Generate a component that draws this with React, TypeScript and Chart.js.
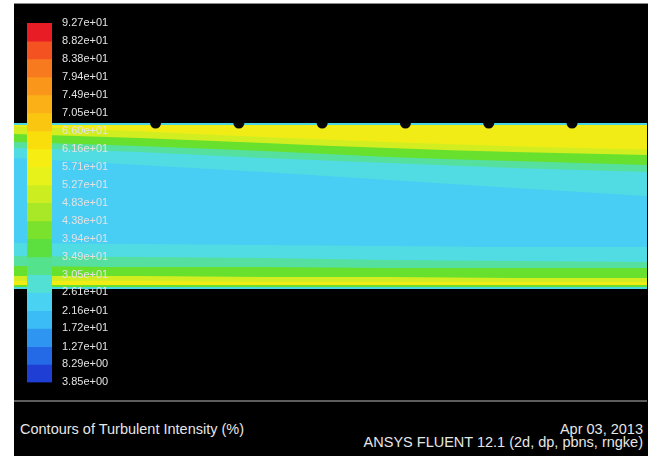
import React, { useEffect, useRef } from 'react';
import { Chart, registerables } from 'chart.js';

Chart.register(...registerables);

// ---------- Contour field data (channel: x 0..76 mm, y 0..10 mm from lower wall) ----------
const X_STATIONS = [0, 15, 30, 45, 60, 76];

// iso-boundaries between colour bands, listed from top wall downward
const B_TOP_WALL = [10, 10, 10, 10, 10, 10];
const B_TOP_FILM = [9.88, 9.88, 9.88, 9.88, 9.88, 9.88];
const B_TOP_YELLOW = [9.8, 9.5, 9.15, 8.85, 8.6, 8.4];
const B_TOP_YELLOWGREEN = [9.34, 9.1, 8.8, 8.49, 8.25, 8.07];
const B_TOP_GREEN = [8.86, 8.61, 8.31, 7.95, 7.71, 7.47];
const B_TOP_CYANGREEN = [8.49, 8.25, 7.89, 7.59, 7.29, 7.05];
const B_CORE_UPPER = [7.89, 7.47, 7.05, 6.57, 6.08, 5.6];
const B_CORE_LOWER = [2.77, 2.71, 2.65, 2.59, 2.53, 2.53];
const B_BOT_CYAN = [1.99, 1.93, 1.87, 1.75, 1.69, 1.63];
const B_BOT_CYANGREEN = [1.39, 1.33, 1.33, 1.27, 1.27, 1.27];
const B_BOT_GREEN = [0.78, 0.78, 0.72, 0.72, 0.66, 0.66];
const B_BOT_YELLOWGREEN = [0.48, 0.48, 0.42, 0.42, 0.42, 0.42];
const B_BOT_YELLOW = [0.24, 0.24, 0.24, 0.24, 0.24, 0.24];
const B_BOT_FILM = [0.12, 0.12, 0.12, 0.12, 0.12, 0.12];

const BOUNDARIES = [
  B_TOP_WALL, B_TOP_FILM, B_TOP_YELLOW, B_TOP_YELLOWGREEN, B_TOP_GREEN, B_TOP_CYANGREEN,
  B_CORE_UPPER, B_CORE_LOWER, B_BOT_CYAN, B_BOT_CYANGREEN, B_BOT_GREEN, B_BOT_YELLOWGREEN,
  B_BOT_YELLOW, B_BOT_FILM,
];

// colour of the band lying just below each boundary
const C_WALL = 'rgb(76, 214, 226)';
const C_YELLOW = 'rgb(242, 236, 22)';
const C_YELLOWGREEN = 'rgb(210, 238, 32)';
const C_GREEN = 'rgb(104, 224, 46)';
const C_CYANGREEN = 'rgb(86, 224, 160)';
const C_LIGHTCYAN = 'rgb(80, 220, 226)';
const C_CORE = 'rgb(72, 205, 245)';
const BAND_BELOW_COLORS = [
  C_WALL, C_YELLOW, C_YELLOWGREEN, C_GREEN, C_CYANGREEN, C_LIGHTCYAN,
  C_CORE, C_LIGHTCYAN, C_CYANGREEN, C_GREEN, C_YELLOWGREEN, C_YELLOW,
  C_GREEN, C_WALL,
];

// probe / hole positions on the upper wall
const PROBE_X = [17, 27, 37, 47, 57, 67];
const PROBE_Y = [10, 10, 10, 10, 10, 10];

// ---------- Colour scale ----------
const LEVELS = [
  92.7, 88.2, 83.8, 79.4, 74.9, 70.5, 66.0, 61.6, 57.1, 52.7, 48.3,
  43.8, 39.4, 34.9, 30.5, 26.1, 21.6, 17.2, 12.7, 8.29, 3.85,
];
const LEVEL_COLORS = [
  'rgb(232, 28, 36)', 'rgb(244, 82, 32)', 'rgb(248, 122, 30)', 'rgb(250, 150, 26)',
  'rgb(250, 176, 22)', 'rgb(250, 198, 16)', 'rgb(250, 222, 12)', 'rgb(246, 238, 18)',
  'rgb(230, 242, 26)', 'rgb(204, 238, 32)', 'rgb(168, 232, 38)', 'rgb(122, 226, 44)',
  'rgb(92, 224, 64)', 'rgb(84, 226, 140)', 'rgb(82, 224, 212)', 'rgb(74, 210, 242)',
  'rgb(60, 188, 246)', 'rgb(46, 150, 240)', 'rgb(36, 106, 230)', 'rgb(30, 62, 212)',
];

const TITLE = 'Contours of Turbulent Intensity (%)';
const DATE = 'Apr 03, 2013';
const SOLVER = 'ANSYS FLUENT 12.1 (2d, dp, pbns, rngke)';

const FONT = '"Liberation Sans", Arial, Helvetica, sans-serif';

function fmtExp(v: number): string {
  const [m, e] = v.toExponential(2).split('e');
  const sign = e[0];
  const digits = e.slice(1).padStart(2, '0');
  return `${m}e${sign}${digits}`;
}

function ContourChart() {
  const ref = useRef<HTMLCanvasElement>(null);
  useEffect(() => {
    const n = BOUNDARIES.length;
    const bandSets = BOUNDARIES.map((b, i) => ({
      data: X_STATIONS.map((x, k) => ({ x, y: b[k] })),
      backgroundColor: BAND_BELOW_COLORS[i],
      borderColor: 'rgba(0,0,0,0)',
      borderWidth: 0,
      pointRadius: 0,
      fill: 'start',
      cubicInterpolationMode: 'monotone',
      order: n - i,
    }));
    const probes = {
      data: PROBE_X.map((x, k) => ({ x, y: PROBE_Y[k] })),
      showLine: false,
      pointRadius: 5.5,
      pointBackgroundColor: '#050505',
      pointBorderColor: '#050505',
      pointBorderWidth: 0,
      fill: false,
      order: 0,
    };
    const chart = new Chart(ref.current as HTMLCanvasElement, {
      type: 'line',
      data: { datasets: [probes, ...bandSets] as any },
      options: {
        animation: false,
        responsive: false,
        events: [],
        layout: { padding: 0, autoPadding: false } as any,
        plugins: { legend: { display: false }, tooltip: { enabled: false } },
        scales: {
          x: { type: 'linear', min: 0, max: 76, display: false },
          y: { type: 'linear', min: 0, max: 10, display: false },
        },
      },
    });
    return () => chart.destroy();
  }, []);
  return (
    <canvas
      ref={ref}
      width={633}
      height={166}
      style={{ position: 'absolute', left: 14, top: 123, width: 633, height: 166 }}
    />
  );
}

function ColorBar() {
  const ref = useRef<HTMLCanvasElement>(null);
  useEffect(() => {
    const chart = new Chart(ref.current as HTMLCanvasElement, {
      type: 'bar',
      data: {
        labels: ['scale'],
        datasets: LEVEL_COLORS.map((c, i) => ({
          data: [[LEVELS[i + 1], LEVELS[i]]],
          backgroundColor: c,
          borderWidth: 0,
          grouped: false,
          barPercentage: 1,
          categoryPercentage: 1,
        })) as any,
      },
      options: {
        animation: false,
        responsive: false,
        events: [],
        layout: { padding: { left: 13, top: 20, bottom: 17.6, right: 0 }, autoPadding: false } as any,
        plugins: { legend: { display: false }, tooltip: { enabled: false } },
        scales: {
          x: { display: false },
          y: {
            position: 'right',
            min: LEVELS[LEVELS.length - 1],
            max: LEVELS[0],
            grid: { display: false, drawTicks: false },
            border: { display: false },
            afterBuildTicks: (s: any) => {
              s.ticks = LEVELS.map((v) => ({ value: v }));
            },
            afterFit: (s: any) => {
              s.width = 82;
            },
            ticks: {
              autoSkip: false,
              padding: 10,
              color: '#e2e2e2',
              font: { family: FONT, size: 11 },
              callback: (v: any) => fmtExp(Number(v)),
            },
          } as any,
        },
      },
    });
    return () => chart.destroy();
  }, []);
  return (
    <canvas
      ref={ref}
      width={120}
      height={397}
      style={{ position: 'absolute', left: 14, top: 3, width: 120, height: 397 }}
    />
  );
}

export default function App() {
  const text: React.CSSProperties = {
    position: 'absolute',
    fontFamily: FONT,
    fontSize: 14.5,
    lineHeight: '12px',
    color: '#e6e6e6',
    whiteSpace: 'nowrap',
  };
  return (
    <div
      style={{
        position: 'absolute',
        left: 0,
        top: 0,
        width: 653,
        height: 456,
        background: '#ffffff',
        overflow: 'hidden',
      }}
    >
      <div
        style={{
          position: 'absolute',
          left: 14,
          top: 3,
          width: 634,
          height: 453,
          background: '#000000',
          borderTop: '1px solid #8a8a8a',
          boxSizing: 'border-box',
        }}
      />
      <div
        style={{ position: 'absolute', left: 14, top: 400, width: 633, height: 2, background: '#5c5c5c' }}
      />
      <ContourChart />
      <ColorBar />
      <div style={{ ...text, left: 20, top: 423 }}>{TITLE}</div>
      <div style={{ ...text, right: 10, top: 423, textAlign: 'right' }}>{DATE}</div>
      <div style={{ ...text, right: 10, top: 436, textAlign: 'right' }}>{SOLVER}</div>
    </div>
  );
}
